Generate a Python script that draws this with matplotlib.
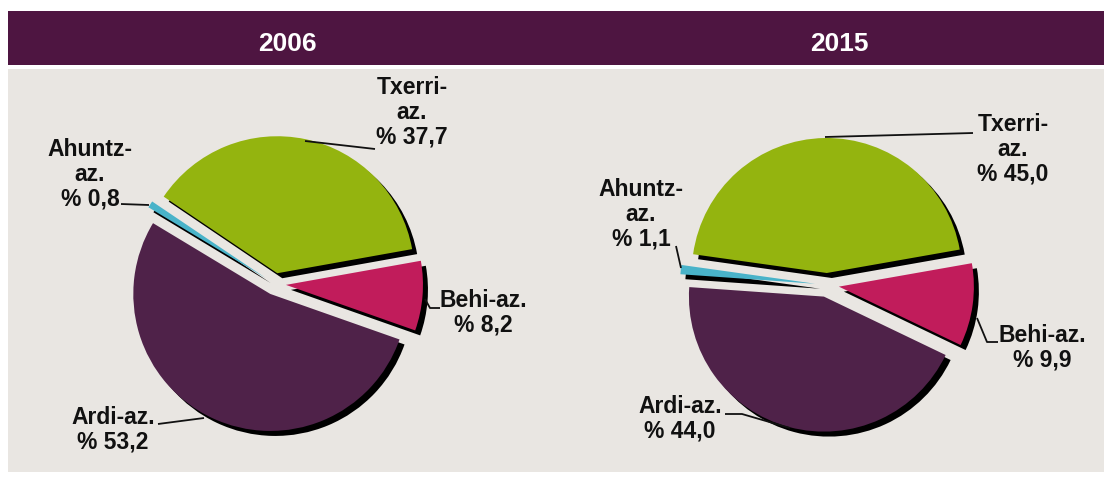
import matplotlib
matplotlib.use("Agg")
import matplotlib.pyplot as plt
from matplotlib.patches import Rectangle

# ---------------- data ----------------
years = ["2006", "2015"]
categories = ["Txerri-az.", "Behi-az.", "Ardi-az.", "Ahuntz-az."]
label_names = ["Txerri-\naz.", "Behi-az.", "Ardi-az.", "Ahuntz-\naz."]
values_2006 = [37.7, 8.2, 53.2, 0.8]
values_2015 = [45.0, 9.9, 44.0, 1.1]

colors = ["#94b40f", "#c11c5b", "#4f2249", "#49b3c9"]
header_color = "#4e1541"
panel_color = "#e9e6e2"

W, H = 1104, 479
FONT = ["Liberation Sans", "DejaVu Sans"]


def Y(y):
    return H - y


def fmt(v):
    return "% " + f"{v:.1f}".replace(".", ",")


fig = plt.figure(figsize=(W / 100, H / 100), dpi=100)
fig.patch.set_facecolor("white")
ax = fig.add_axes([0, 0, 1, 1])

# background panels
ax.add_patch(Rectangle((8, Y(65)), W - 8, 54, facecolor=header_color, edgecolor="none", zorder=0))
ax.add_patch(Rectangle((8, Y(472)), W - 8, 472 - 69, facecolor=panel_color, edgecolor="none", zorder=0))

# header texts
for yr, xc in zip(years, [287, 839]):
    ax.text(xc, Y(44), yr, color="white", fontsize=19, fontweight="bold",
            family=FONT, ha="center", va="center", zorder=5)

shadow = {"ox": 3.6, "oy": -3.6, "facecolor": "black", "edgecolor": "black", "alpha": 1.0}

pies = [
    dict(values=values_2006, center=(275, Y(284)), radius=137, start=146, explode=11),
    dict(values=values_2015, center=(827, Y(285)), radius=135, start=172, explode=12),
]
for p in pies:
    ax.pie(p["values"], colors=colors, startangle=p["start"], counterclock=False,
           center=p["center"], radius=p["radius"], explode=[p["explode"]] * len(p["values"]),
           shadow=shadow, frame=True, wedgeprops=dict(linewidth=0))

# labels: (text position, alignment, leader line points)
label_layout = [
    # 2006
    [
        dict(xy=(412, 112), ha="center", line=[(305, 141), (375, 149)]),
        dict(xy=(483, 313), ha="center", line=[(425, 299), (430, 308), (440, 308)]),
        dict(xy=(113, 430), ha="center", line=[(158, 424), (204, 418)]),
        dict(xy=(90, 174), ha="center", line=[(121, 204), (149, 205)]),
    ],
    # 2015
    [
        dict(xy=(1013, 149), ha="center", line=[(825, 137), (973, 133)]),
        dict(xy=(1042, 348), ha="center", line=[(977, 318), (987, 342), (998, 342)]),
        dict(xy=(680, 419), ha="center", line=[(725, 414), (742, 414), (790, 428)]),
        dict(xy=(641, 214), ha="center", line=[(676, 246), (681, 268)]),
    ],
]

for vals, layout in zip([values_2006, values_2015], label_layout):
    for name, v, lay in zip(label_names, vals, layout):
        x, y = lay["xy"]
        ax.text(x, Y(y), name + "\n" + fmt(v), fontsize=16.5, fontweight="bold",
                family=FONT, ha=lay["ha"], va="center", multialignment="center",
                linespacing=1.1, color="#111111", zorder=6)
        xs = [pt[0] for pt in lay["line"]]
        ys = [Y(pt[1]) for pt in lay["line"]]
        ax.plot(xs, ys, color="#111111", lw=1.3, zorder=6, solid_capstyle="butt")

ax.set_xlim(0, W)
ax.set_ylim(0, H)
ax.set_aspect("auto")
ax.axis("off")

fig.savefig("out.png", dpi=100, facecolor="white")
